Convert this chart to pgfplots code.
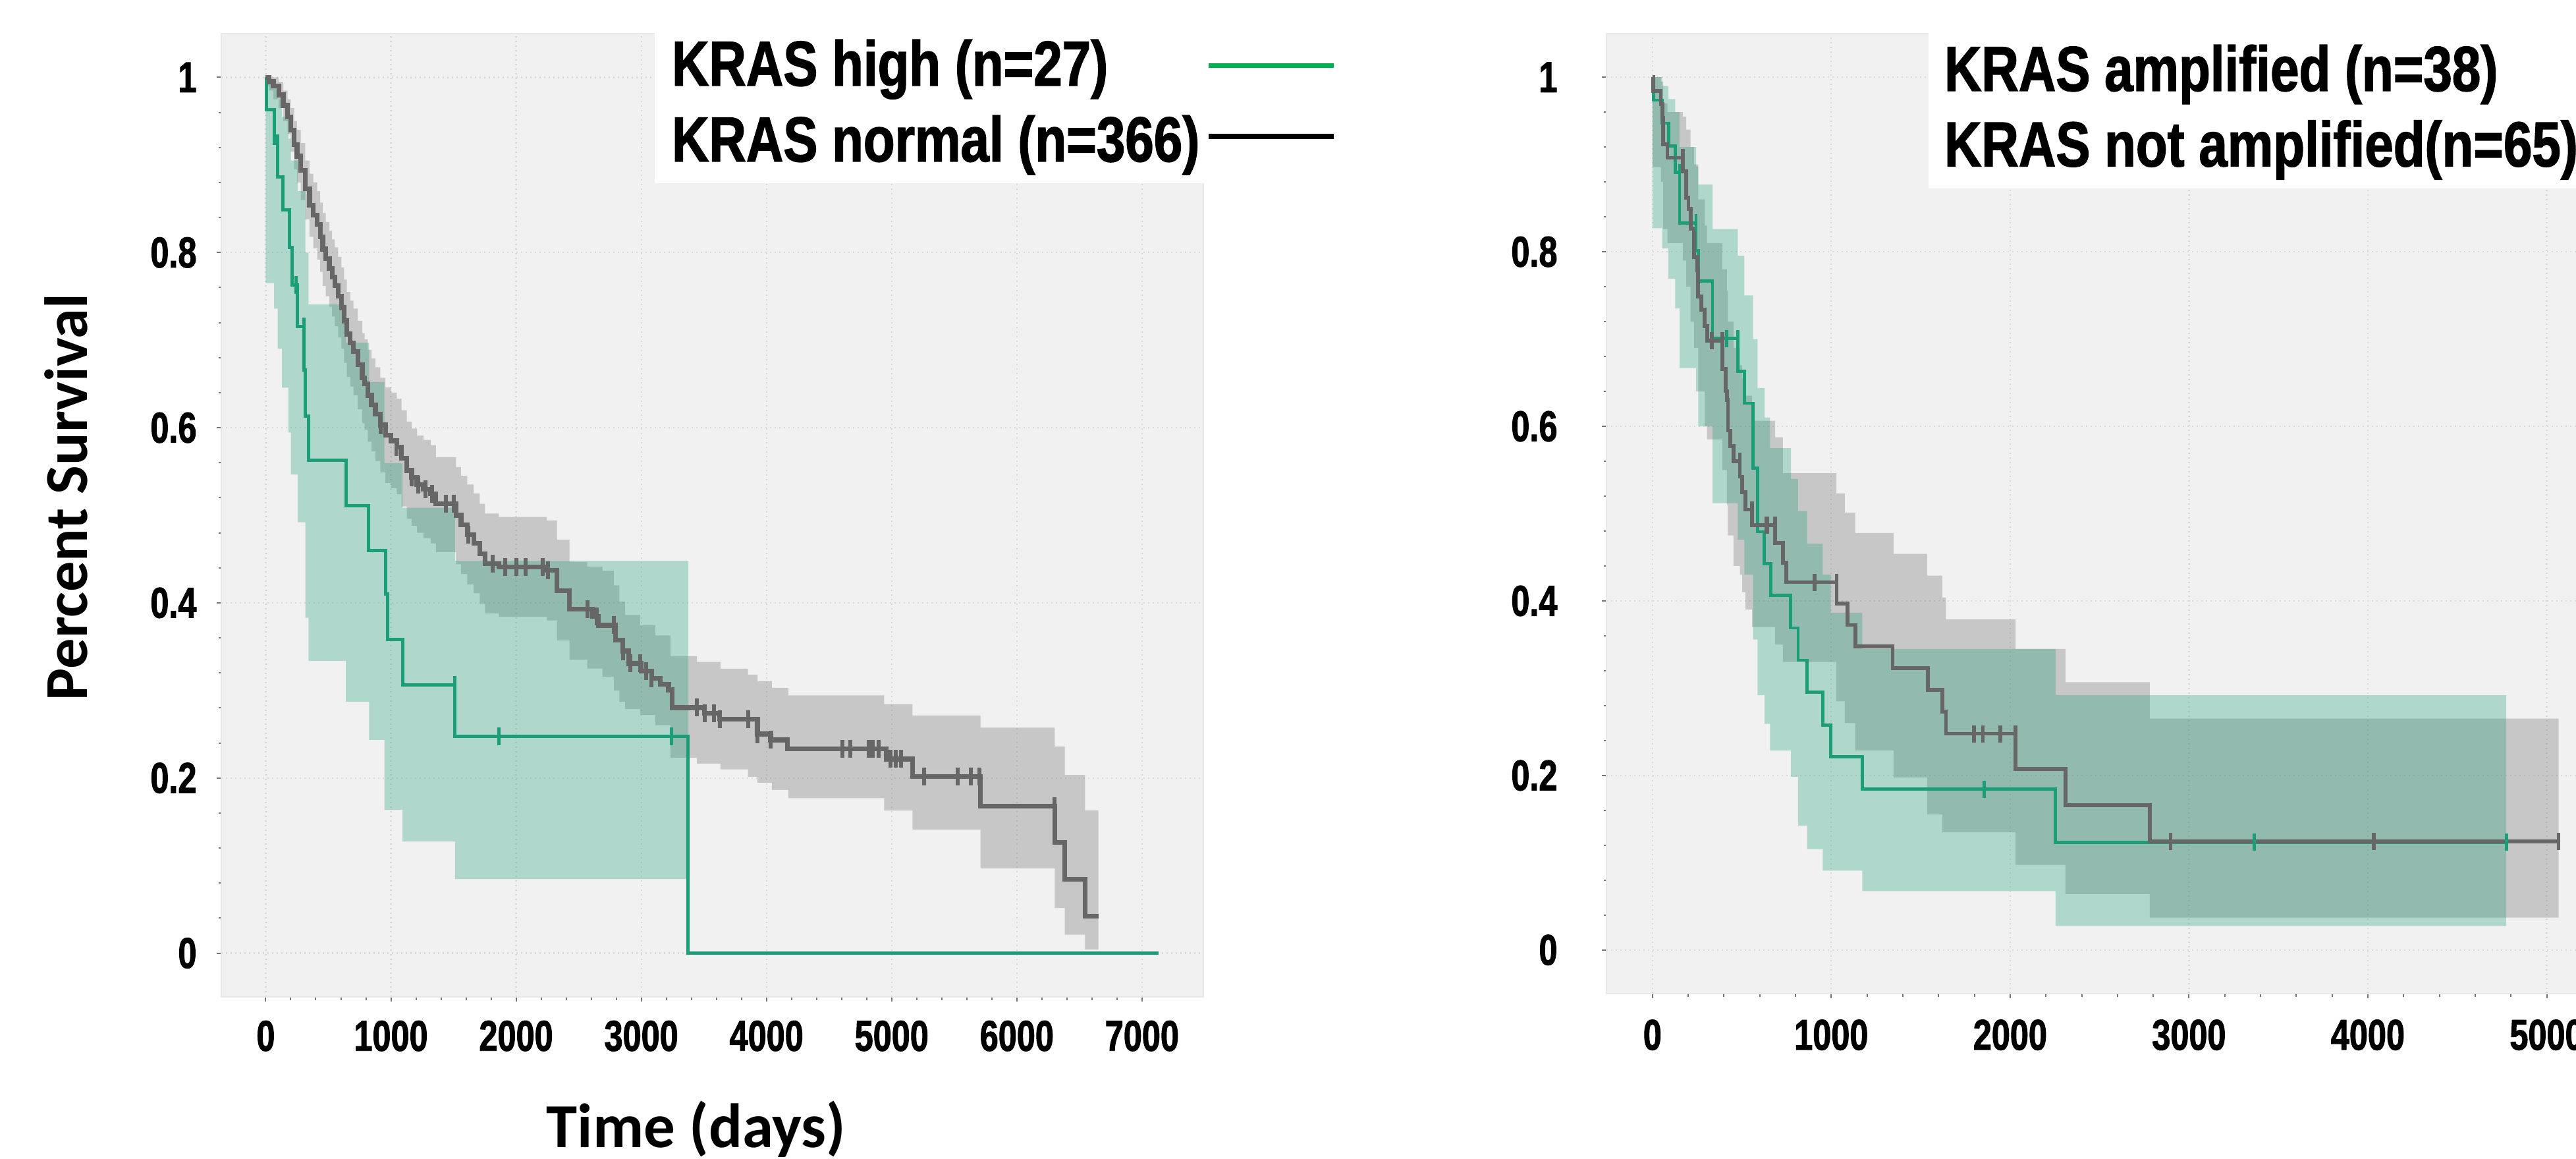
\documentclass[border=0pt]{standalone}
\usepackage{fontspec}
\usepackage{pgfplots}
\usepackage{pgfplotstable}
\pgfplotsset{compat=1.18}
\setmainfont{Liberation Sans}
\newfontfamily\tickfont[FakeStretch=0.77, FakeBold=1.5]{Liberation Sans}
\newfontfamily\legfont[FakeStretch=0.81, FakeBold=1.5]{Liberation Sans}
\newfontfamily\labfont{Carlito}
\definecolor{kmgreen}{RGB}{27,158,119}
\definecolor{kmgray}{RGB}{102,102,102}
\definecolor{leggreen}{RGB}{0,176,80}

% ---------- left panel data ----------
\pgfplotstableread{
t S
0 1
5 0.963
66 0.925
96 0.886
139 0.8485
192 0.806
210 0.763
253 0.7156
306 0.666
316 0.613
341 0.563
644 0.511
821 0.460
956 0.410
974 0.358
1093 0.3066
1510 0.2475
3375 0
7134 0
}\LgreenKM
\pgfplotstableread{
t S
96 0.925
241 0.763
306 0.7156
1510 0.3066
1862 0.2475
3242 0.2475
}\LgreenCens
% band outline: upper edge forward, lower edge backward (step corners)
\pgfplotstableread{
t B
0 0.995
66 0.99
96 0.975
130 0.955
181 0.93
201 0.905
255 0.87
316 0.80
341 0.7406
640 0.697
825 0.652
948 0.5596
1093 0.5086
1512 0.448
3376 0.448
3376 0.0845
1512 0.1275
1093 0.1636
948 0.2435
825 0.287
640 0.3337
341 0.383
316 0.492
255 0.5466
201 0.5946
181 0.6457
130 0.690
96 0.736
66 0.765
0 0.765
}\LgreenBand
\pgfplotstableread{
t S
0 1
25 0.995
60 0.99
104 0.980
140 0.968
175 0.955
200 0.94
227 0.923
250 0.91
280 0.894
315 0.873
350 0.854
380 0.843
411 0.832
435 0.818
455 0.804
480 0.793
508 0.782
530 0.772
552 0.762
578 0.75
604 0.737
625 0.722
648 0.707
675 0.697
701 0.687
735 0.672
771 0.657
790 0.650
815 0.637
845 0.626
876 0.6156
915 0.603
956 0.5914
1000 0.585
1047 0.578
1085 0.565
1127 0.5511
1165 0.543
1208 0.535
1260 0.530
1318 0.5242
1359 0.5134
1520 0.500
1560 0.4893
1610 0.478
1661 0.4678
1710 0.456
1752 0.4449
1862 0.4409
2245 0.4369
2326 0.4140
2426 0.3926
2608 0.3845
2659 0.3744
2795 0.3576
2850 0.345
2900 0.3308
3000 0.322
3082 0.3140
3150 0.307
3218 0.3006
3248 0.2804
3505 0.2737
3626 0.2670
3928 0.2502
4033 0.2435
4169 0.2334
4955 0.2217
5166 0.2015
5710 0.1679
6303 0.1264
6383 0.0845
6545 0.0419
6652 0.0419
}\LgrayKM
\pgfplotstableread{
t S
916 0.603
1047 0.578
1168 0.543
1218 0.535
1278 0.530
1329 0.5242
1440 0.5134
1500 0.5134
1617 0.478
1812 0.4449
1913 0.4409
2003 0.4409
2074 0.4409
2215 0.4409
2255 0.4369
2568 0.3926
2644 0.3845
2780 0.3744
2855 0.345
2910 0.3308
2990 0.3308
3037 0.322
3082 0.3140
3445 0.2804
3505 0.2737
3581 0.2737
3626 0.2670
3852 0.2670
3928 0.2502
4033 0.2435
4608 0.2334
4668 0.2334
4819 0.2334
4849 0.2334
4895 0.2334
4990 0.2217
5031 0.2217
5076 0.2217
5257 0.2015
5529 0.2015
5635 0.2015
5700 0.2015
6299 0.1679
}\LgrayCens
\pgfplotstableread{
t B
0 1.0
25 1.0
60 1.0
104 0.995
140 0.985
175 0.975
200 0.965
227 0.95
250 0.94
280 0.925
315 0.905
350 0.89
380 0.88
411 0.87
435 0.857
455 0.845
480 0.835
508 0.825
530 0.815
552 0.806
578 0.795
604 0.783
625 0.769
648 0.755
675 0.745
701 0.736
735 0.722
771 0.708
790 0.701
815 0.689
845 0.679
876 0.669
915 0.657
956 0.646
1000 0.640
1047 0.633
1085 0.62
1127 0.607
1165 0.599
1208 0.591
1260 0.586
1318 0.580
1359 0.5664
1520 0.555
1560 0.545
1610 0.535
1661 0.525
1710 0.513
1752 0.502
1862 0.498
2245 0.494
2326 0.472
2426 0.4466
2568 0.4415
2689 0.4366
2780 0.42
2825 0.4014
2871 0.3862
2991 0.3744
3112 0.3627
3233 0.339
3445 0.3325
3632 0.3247
3852 0.318
3928 0.3105
4043 0.3029
4175 0.2944
4940 0.2843
5166 0.2713
5710 0.2575
6303 0.236
6383 0.2035
6545 0.163
6652 0.163
6652 0.004
6545 0.0211
6383 0.0515
6303 0.0968
5710 0.141
5166 0.1628
4940 0.1769
4175 0.1863
4043 0.1947
3928 0.2014
3852 0.2098
3632 0.2165
3445 0.2232
3233 0.2602
3112 0.272
2991 0.2787
2871 0.287
2825 0.30
2780 0.3156
2689 0.325
2568 0.335
2426 0.357
2326 0.380
2245 0.384
1862 0.388
1752 0.399
1710 0.411
1661 0.421
1610 0.433
1560 0.444
1520 0.458
1359 0.468
1318 0.474
1260 0.48
1208 0.488
1165 0.496
1127 0.51
1085 0.524
1047 0.531
1000 0.537
956 0.549
915 0.562
876 0.573
845 0.584
815 0.598
790 0.605
771 0.621
735 0.637
701 0.647
675 0.658
648 0.674
625 0.69
604 0.703
578 0.716
552 0.727
530 0.738
508 0.75
480 0.762
455 0.778
435 0.792
411 0.805
380 0.818
350 0.838
315 0.86
280 0.88
250 0.895
227 0.915
200 0.935
175 0.95
140 0.965
104 0.975
60 0.985
25 0.99
0 0.99
}\LgrayBand

% ---------- right panel data ----------
\pgfplotstableread{
t S
0 1
5 0.9737
55 0.9474
90 0.9211
127 0.8909
152 0.833
244 0.8014
256 0.7663
336 0.7007
477 0.6629
514 0.6265
563 0.5523
588 0.4793
624 0.4428
661 0.4063
772 0.3690
815 0.3321
864 0.2955
952 0.2574
997 0.2216
1173 0.1842
2254 0.1234
4774 0.1234
}\RgreenKM
\pgfplotstableread{
t S
152 0.8909
244 0.833
416 0.7007
477 0.7007
1856 0.1842
3366 0.1234
4774 0.1234
}\RgreenCens
\pgfplotstableread{
t B
0 1.0
55 0.99
90 0.975
127 0.96
152 0.92
244 0.898
256 0.877
336 0.826
477 0.7955
514 0.75
563 0.70
588 0.644
627 0.6102
658 0.575
775 0.5397
814 0.503
865 0.4655
952 0.43
997 0.3865
1173 0.345
2254 0.292
4774 0.292
4774 0.0275
2254 0.0675
1173 0.091
997 0.091
952 0.1157
865 0.1427
814 0.1984
775 0.2285
658 0.259
627 0.292
588 0.3557
563 0.43
514 0.47
477 0.512
336 0.60
256 0.64
244 0.6667
152 0.735
127 0.769
90 0.804
55 0.827
0 0.827
}\RgreenBand
\pgfplotstableread{
t S
0 1
5 0.9846
47 0.9692
55 0.9538
60 0.9231
84 0.9077
170 0.8920
189 0.8618
201 0.8493
213 0.8267
232 0.7940
250 0.7788
256 0.7486
274 0.7335
293 0.7146
305 0.6983
391 0.6656
410 0.6404
416 0.6303
422 0.5951
434 0.5774
453 0.5599
489 0.5422
502 0.5246
520 0.5045
557 0.4869
686 0.4666
729 0.4440
747 0.4214
1030 0.3969
1091 0.3724
1134 0.3479
1343 0.3228
1539 0.2981
1621 0.2729
1641 0.2478
2030 0.2074
2309 0.1658
2781 0.1242
5067 0.1242
}\RgrayKM
\pgfplotstableread{
t S
170 0.9077
333 0.6983
391 0.6983
489 0.5599
557 0.5045
637 0.4869
643 0.4869
686 0.4869
907 0.4214
1030 0.4214
1797 0.2478
1848 0.2478
1945 0.2478
2030 0.2478
2898 0.1242
4033 0.1242
5067 0.1242
}\RgrayCens
\pgfplotstableread{
t B
0 1.0
47 0.995
60 0.97
84 0.96
170 0.955
189 0.94
213 0.92
232 0.90
256 0.86
293 0.83
305 0.81
391 0.78
416 0.755
422 0.72
453 0.69
489 0.67
502 0.655
520 0.635
557 0.6064
686 0.5875
729 0.5463
1029 0.5232
1076 0.501
1134 0.4779
1348 0.4539
1536 0.4289
1621 0.4038
1641 0.3788
2030 0.3449
2309 0.3068
2781 0.2652
5067 0.2652
5067 0.0371
2781 0.0641
2309 0.0976
2030 0.1349
1641 0.1349
1621 0.1553
1536 0.1977
1348 0.2286
1134 0.26
1076 0.285
1029 0.33
729 0.35
686 0.37
557 0.39
520 0.41
502 0.43
489 0.44
453 0.475
422 0.51
416 0.55
391 0.585
305 0.60
293 0.64
256 0.69
232 0.72
213 0.76
189 0.79
170 0.81
84 0.826
60 0.88
47 0.897
0 0.897
}\RgrayBand

\pgfplotsset{kmaxis/.style={
  scale only axis, anchor=south west,
  axis background/.style={fill=black!5.5},
  axis line style={draw=black!9, line width=0.5pt},
  grid=major, major grid style={densely dotted, black!15, line width=0.45pt},
  tick pos=left, tick align=outside,
  major tick length=1.4pt, minor tick length=0.9pt,
  tick style={black!55, line width=0.4pt},
  minor x tick num=4, minor y tick num=4,
  ymin=-0.05, ymax=1.05,
  ytick={0,0.2,0.4,0.6,0.8,1},
  yticklabels={0,0.2,0.4,0.6,0.8,1},
  /pgf/number format/assume math mode=true,
  /pgf/number format/1000 sep={},
  ticklabel style={font=\tickfont\bfseries\fontsize{13.1}{15}\selectfont, inner sep=0pt},
  xticklabel style={anchor=north},
  yticklabel style={anchor=east},
}}

\begin{document}
\begin{tikzpicture}
% ================= LEFT =================
\begin{axis}[kmaxis,
  at={(67.2pt,49pt)}, width=298.2pt, height=292.4pt,
  xmin=-355, xmax=7490, xtick={0,1000,...,7000},
  xticklabel style={yshift=-5.6pt}, yticklabel style={xshift=-5.9pt}]
  \addplot[const plot, fill=kmgray, fill opacity=0.3, draw=none] table[x=t, y=B] {\LgrayBand};
  \addplot[const plot, fill=kmgreen, fill opacity=0.3, draw=none] table[x=t, y=B] {\LgreenBand};
  \addplot[const plot, kmgreen, line width=1.0pt, mark=none] table[x=t, y=S] {\LgreenKM};
  \addplot[only marks, mark=|, mark size=2.7pt, kmgreen, mark options={line width=1.0pt}] table[x=t, y=S] {\LgreenCens};
  \addplot[const plot, kmgray, line width=1.45pt, mark=none] table[x=t, y=S] {\LgrayKM};
  \addplot[only marks, mark=|, mark size=2.7pt, kmgray, mark options={line width=1.2pt}] table[x=t, y=S] {\LgrayCens};
\end{axis}
% ================= RIGHT =================
\begin{axis}[kmaxis,
  at={(487.8pt,50pt)}, width=298.2pt, height=291.4pt,
  xmin=-257, xmax=5234, xtick={0,1000,...,5000},
  xticklabel style={yshift=-6.3pt}, yticklabel style={xshift=-13.3pt}]
  \addplot[const plot, fill=kmgray, fill opacity=0.3, draw=none] table[x=t, y=B] {\RgrayBand};
  \addplot[const plot, fill=kmgreen, fill opacity=0.3, draw=none] table[x=t, y=B] {\RgreenBand};
  \addplot[const plot, kmgreen, line width=0.95pt, mark=none] table[x=t, y=S] {\RgreenKM};
  \addplot[only marks, mark=|, mark size=2.6pt, kmgreen, mark options={line width=0.95pt}] table[x=t, y=S] {\RgreenCens};
  \addplot[const plot, kmgray, line width=1.15pt, mark=none] table[x=t, y=S] {\RgrayKM};
  \addplot[only marks, mark=|, mark size=2.6pt, kmgray, mark options={line width=1.1pt}] table[x=t, y=S] {\RgrayCens};
\end{axis}
% ================= legends =================
\fill[white] (198.8pt,296pt) rectangle (366pt,351.6pt);
\node[anchor=base west, inner sep=0pt, font=\legfont\bfseries\fontsize{19.3}{22}\selectfont] at (203.8pt,325.6pt) {KRAS high (n=27)};
\node[anchor=base west, inner sep=0pt, font=\legfont\bfseries\fontsize{19.3}{22}\selectfont] at (203.8pt,302.6pt) {KRAS normal (n=366)};
\draw[leggreen, line width=1.5pt] (367pt,331.7pt) -- (405pt,331.7pt);
\draw[black, line width=1.5pt] (367pt,310.2pt) -- (405pt,310.2pt);
\fill[white] (585.6pt,294.4pt) rectangle (782.2pt,351.6pt);
\node[anchor=base west, inner sep=0pt, font=\legfont\bfseries\fontsize{19.3}{22}\selectfont] at (590.2pt,324.0pt) {KRAS amplified (n=38)};
\node[anchor=base west, inner sep=0pt, font=\legfont\bfseries\fontsize{19.3}{22}\selectfont] at (590.2pt,301.1pt) {KRAS not amplified(n=65)};
% ================= axis labels =================
\node[rotate=90, inner sep=0pt, font=\labfont\bfseries\fontsize{18.5}{22}\selectfont] at (20pt,200.7pt) {Percent Survival};
\node[anchor=base, inner sep=0pt, font=\labfont\bfseries\fontsize{19}{22}\selectfont] at (211.4pt,3.3pt) {Time (days)};
\pgfresetboundingbox
\useasboundingbox (0,0) rectangle (782.2pt,351.6pt);
\end{tikzpicture}
\end{document}
